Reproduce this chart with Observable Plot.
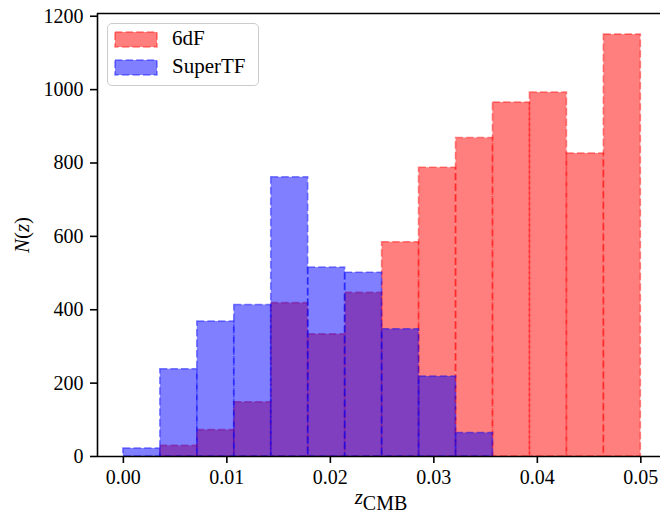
<!DOCTYPE html>
<html>
<head>
<meta charset="utf-8">
<script src="https://cdn.jsdelivr.net/npm/d3@7"></script>
<script src="https://cdn.jsdelivr.net/npm/@observablehq/plot@0.6"></script>
<style>
  body { margin: 0; background: #fff; }
  #wrap { position: relative; width: 660px; height: 519px; font-family: "Liberation Serif", "DejaVu Serif", serif; }
  #legend { position: absolute; left: 107px; top: 23px; width: 152px; height: 63px; box-sizing: border-box;
            border: 1.5px solid #cccccc; border-radius: 5px; background: rgba(255,255,255,0.8); }
  .li { position: absolute; left: 0; height: 20px; font-size: 21px; color: #000; }
  .li svg { position: absolute; left: 6px; top: 0; }
  .li span { position: absolute; left: 64px; top: -4px; white-space: nowrap; }
</style>
</head>
<body>
<div id="wrap"></div>
<script>
// Bin edges of the histogram (z_CMB)
const binEdges = [0, 0.003571, 0.007143, 0.010714, 0.014286, 0.017857, 0.021429, 0.025,
                  0.028571, 0.032143, 0.035714, 0.039286, 0.042857, 0.046429, 0.05];
// Counts per bin
const counts6dF      = [0, 29, 72, 148, 418, 333, 446, 584, 787, 868, 965, 992, 826, 1150];
const countsSuperTF  = [22, 238, 368, 413, 761, 515, 501, 347, 218, 64, 0, 0, 0, 0];
const seriesNames = ["6dF", "SuperTF"];
const seriesColors = ["#ff0000", "#0000ff"];
// Axis ticks
const xTicks = [0, 0.01, 0.02, 0.03, 0.04, 0.05];
const yTicks = [0, 200, 400, 600, 800, 1000, 1200];
const xDomain = [-0.0025, 0.0519];
const yDomain = [0, 1207.5];

function rows(counts) {
  return counts.map((c, i) => ({x1: binEdges[i], x2: binEdges[i + 1], y: c}));
}
const dash = "7.4,3.2";
function bars(counts, color) {
  return Plot.rect(rows(counts), {
    x1: "x1", x2: "x2", y1: 0, y2: "y",
    fill: color, fillOpacity: 0.5,
    stroke: color, strokeOpacity: 0.45, strokeWidth: 1.6, strokeDasharray: dash
  });
}

const chart = Plot.plot({
  width: 660, height: 519,
  marginLeft: 97, marginRight: 0, marginTop: 13, marginBottom: 63,
  x: {domain: xDomain},
  y: {domain: yDomain},
  style: {fontFamily: '"Liberation Serif", "DejaVu Serif", serif', fontSize: "20px", color: "#000", background: "#fff"},
  marks: [
    bars(counts6dF, seriesColors[0]),
    bars(countsSuperTF, seriesColors[1]),
    Plot.axisX({ticks: xTicks, tickFormat: d3.format(".2f"), tickSize: 7, tickPadding: 6, strokeWidth: 1.6, fontSize: 20, label: null}),
    Plot.axisY({ticks: yTicks, tickFormat: d3.format("d"), tickSize: 7, tickPadding: 7, strokeWidth: 1.6, fontSize: 20, label: null}),
    Plot.ruleX([xDomain[0]], {stroke: "#000", strokeWidth: 1.6}),
    Plot.ruleY([yDomain[0], yDomain[1]], {stroke: "#000", strokeWidth: 1.6})
  ]
});
const wrap = document.getElementById("wrap");
wrap.appendChild(chart);

// Axis labels
const svg = d3.select(chart);
const xl = svg.append("text").attr("x", 381).attr("y", 504).attr("text-anchor", "middle")
  .attr("font-size", 20).attr("font-family", '"Liberation Serif", serif').attr("fill", "#000");
xl.append("tspan").attr("font-style", "italic").attr("font-size", 21).text("z");
xl.append("tspan").attr("dy", 6).text("CMB");

const yl = svg.append("text").attr("transform", "translate(29,235) rotate(-90)").attr("text-anchor", "middle")
  .attr("font-size", 21).attr("font-family", '"Liberation Serif", serif').attr("fill", "#000");
yl.append("tspan").attr("font-style", "italic").text("N");
yl.append("tspan").text("(");
yl.append("tspan").attr("font-style", "italic").text("z");
yl.append("tspan").text(")");

// Legend
const leg = document.createElement("div");
leg.id = "legend";
seriesNames.forEach((name, i) => {
  const item = document.createElement("div");
  item.className = "li";
  item.style.top = (6 + i * 28) + "px";
  item.innerHTML = `<svg width="46" height="20"><rect x="1" y="2" width="42" height="15" fill="${seriesColors[i]}" fill-opacity="0.5" stroke="${seriesColors[i]}" stroke-opacity="0.45" stroke-width="1.6" stroke-dasharray="${dash}"/></svg><span>${name}</span>`;
  leg.appendChild(item);
});
wrap.appendChild(leg);
</script>
</body>
</html>
